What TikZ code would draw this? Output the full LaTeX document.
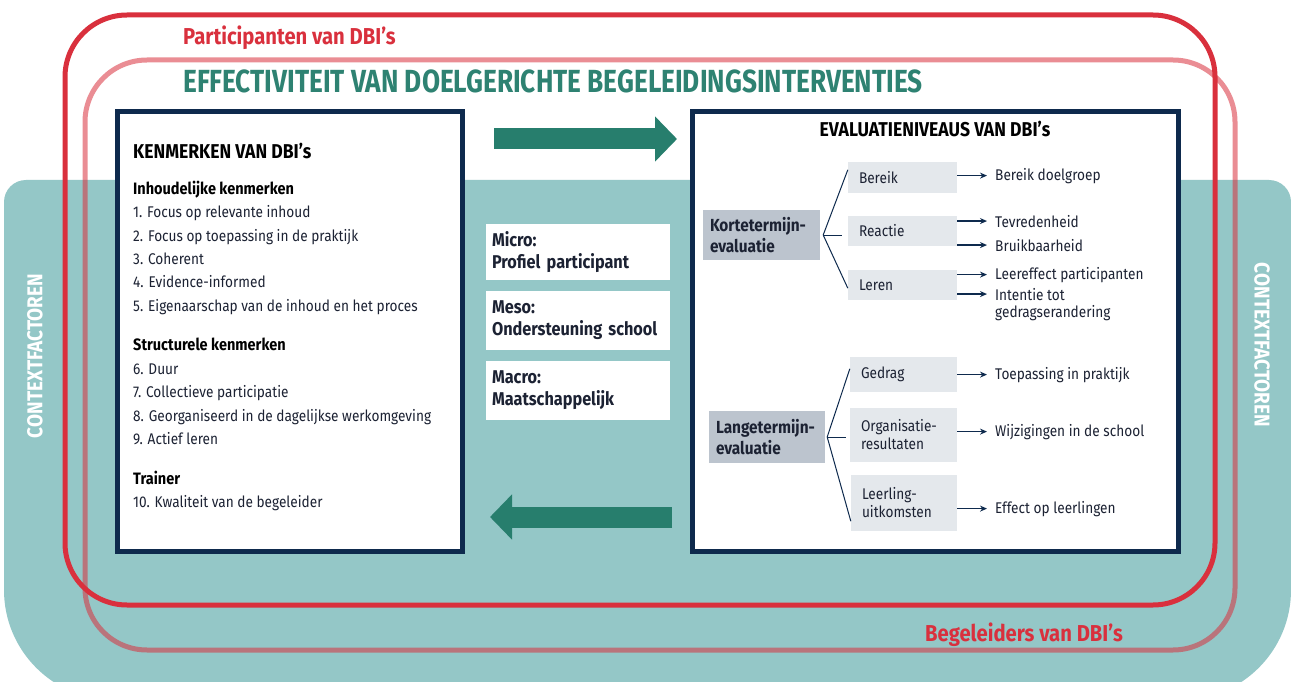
\documentclass[tikz,border=0pt]{standalone}
\usepackage{fontspec}
\setmainfont[FakeStretch=0.88]{Fira Sans}
\newfontfamily\titlefont[FakeStretch=0.82]{Fira Sans}
\usetikzlibrary{arrows.meta,calc}
\definecolor{tealbg}{HTML}{94C7C7}
\definecolor{dbred}{HTML}{D9303D}
\definecolor{navy}{HTML}{0E2A4D}
\definecolor{darkteal}{HTML}{277E6D}
\definecolor{titleteal}{HTML}{2E8272}
\definecolor{boxgray}{HTML}{BCC4CE}
\definecolor{lightgray}{HTML}{E4E8EC}
\definecolor{txt}{HTML}{1C2233}
\tikzset{
  mainbox/.style={draw=navy, line width=5pt, fill=white, inner sep=0pt},
  lvlbox/.style={fill=white, inner sep=0pt, minimum width=184pt, text width=172pt, align=left, font=\fontsize{18.5}{22}\selectfont\bfseries, text=txt},
  termbox/.style={fill=boxgray, inner xsep=7pt, inner ysep=0pt, align=left, font=\fontsize{17.5}{21}\selectfont\bfseries, text=txt},
  subbox/.style={fill=lightgray, inner xsep=11pt, inner ysep=0pt, align=left, font=\fontsize{15.5}{18}\selectfont, text=txt},
  lbl/.style={anchor=base west, inner sep=0pt, font=\fontsize{15.5}{18}\selectfont, text=txt},
  head/.style={anchor=base west, inner sep=0pt, font=\fontsize{16.5}{19}\selectfont\bfseries, text=black},
  bighead/.style={inner sep=0pt, font=\fontsize{20}{24}\selectfont\bfseries, text=black},
  redlbl/.style={anchor=base west, inner sep=0pt, text=dbred, font=\fontsize{23}{27}\selectfont\bfseries},
  branch/.style={draw=navy, line width=1pt},
  small/.style={draw=navy, line width=1.2pt, -{Stealth[length=7pt,width=6pt]}},
  bigarrow/.style={draw=darkteal, line width=21pt, -{Triangle[length=22pt,width=44pt]}},
  ctx/.style={text=white, font=\fontsize{21.5}{24}\selectfont\bfseries, inner sep=0pt},
  ring/.style={line width=5pt, rounded corners=62pt},
}
\begin{document}
\begin{tikzpicture}[x=1pt,y=-1pt]
\useasboundingbox (0,0) rectangle (1291,682);
\fill[white] (0,0) rectangle (1291,682);
\begin{scope}
\clip (0,0) rectangle (1291,682);
% teal context background
\fill[tealbg] (600,700) [rounded corners=110pt] -- (4,700) [rounded corners=22pt] -- (4,180) -- (1291,180) [rounded corners=110pt] -- (1291,700) [sharp corners] -- cycle;
\end{scope}
% rings
\draw[ring, draw=dbred] (65,15) rectangle (1215,605);
\draw[ring, draw=dbred, opacity=0.55] (85,60) rectangle (1235,650);

\node[redlbl] (part) at (183,45) {Participanten van DBI’s};
\node[redlbl] (beg) at (925,641) {Begeleiders van DBI’s};
\node[anchor=base west, inner sep=0pt, text=titleteal, font=\titlefont\fontsize{32}{36}\selectfont\bfseries] (title) at (183,93) {EFFECTIVITEIT VAN DOELGERICHTE BEGELEIDINGSINTERVENTIES};

\node[ctx, rotate=90] (ctxl) at (35,356) {CONTEXTFACTOREN};
\node[ctx, rotate=-90] (ctxr) at (1262,345) {CONTEXTFACTOREN};

% main boxes
\node[mainbox, minimum width=345pt, minimum height=439pt] (left) at (289.5,331.5) {};
\node[mainbox, minimum width=486pt, minimum height=439pt] (right) at (935,331.5) {};

% left box texts
\node[bighead, anchor=base west] (kh) at (133,159) {KENMERKEN VAN DBI’s};
\node[head] (h1) at (133,194) {Inhoudelijke kenmerken};
\node[lbl] (i1) at (133,217) {1. Focus op relevante inhoud};
\node[lbl] (i2) at (133,241) {2. Focus op toepassing in de praktijk};
\node[lbl] (i3) at (133,264) {3. Coherent};
\node[lbl] (i4) at (133,287) {4. Evidence-informed};
\node[lbl] (i5) at (133,311) {5. Eigenaarschap van de inhoud en het proces};
\node[head] (h2) at (133,350) {Structurele kenmerken};
\node[lbl] (i6) at (133,374) {6. Duur};
\node[lbl] (i7) at (133,397) {7. Collectieve participatie};
\node[lbl] (i8) at (133,421) {8. Georganiseerd in de dagelijkse werkomgeving};
\node[lbl] (i9) at (133,444) {9. Actief leren};
\node[head] (h3) at (133,484) {Trainer};
\node[lbl] (i10) at (133,507) {10. Kwaliteit van de begeleider};

% level boxes
\node[lvlbox, minimum height=56pt] (micro) at (578,252) {Micro:\\Profiel participant};
\node[lvlbox, minimum height=59pt] (meso) at (578,320.5) {Meso:\\Ondersteuning school};
\node[lvlbox, minimum height=59pt] (macro) at (578,390.5) {Macro:\\Maatschappelijk};

% big arrows
\coordinate (ra1) at (494,139);
\coordinate (ra2) at (677,139);
\coordinate (la1) at (672,517);
\coordinate (la2) at (490,517);
\draw[bigarrow] (ra1) -- (ra2);
\draw[bigarrow] (la1) -- (la2);

% right box content
\node[bighead, anchor=base] (rh) at (935,137) {EVALUATIENIVEAUS VAN DBI’s};

\node[termbox, minimum width=117pt, minimum height=50pt, text width=103pt] (korte) at (761.5,235) {Kortetermijn-\\evaluatie};
\node[subbox, minimum width=109pt, minimum height=31pt, text width=87pt] (bereik) at (902.5,177.5) {Bereik};
\node[subbox, minimum width=109pt, minimum height=30pt, text width=87pt] (reactie) at (902.5,231) {Reactie};
\node[subbox, minimum width=109pt, minimum height=30pt, text width=87pt] (leren) at (902.5,285) {Leren};

\node[termbox, minimum width=116pt, minimum height=52pt, text width=102pt] (lange) at (767,437) {Langetermijn-\\evaluatie};
\node[subbox, minimum width=107pt, minimum height=35pt, text width=85pt] (gedrag) at (903.5,374.5) {Gedrag};
\node[subbox, minimum width=107pt, minimum height=54pt, text width=85pt] (org) at (903.5,435) {Organisatie-\\resultaten};
\node[subbox, minimum width=106pt, minimum height=56pt, text width=84pt] (leerling) at (904,503) {Leerling-\\uitkomsten};

% branches
\coordinate (kf) at ($(korte.east)+(3,0)$);
\draw[branch] (kf) -- ($(bereik.north west)+(0,8)$);
\draw[branch] (kf) -- ($(reactie.west)+(-6,4)$);
\draw[branch] (kf) -- ($(leren.south west)+(0,-12)$);
\coordinate (lf) at ($(lange.east)+(2,0)$);
\draw[branch] (lf) -- ($(gedrag.north west)+(0,12)$);
\draw[branch] (lf) -- ($(org.west)+(-4,2)$);
\draw[branch] (lf) -- ($(leerling.south west)+(0,-10)$);

% outcome labels
\node[lbl] (o1) at (995,180) {Bereik doelgroep};
\node[lbl] (o2) at (995,227) {Tevredenheid};
\node[lbl] (o3) at (995,251) {Bruikbaarheid};
\node[lbl] (o4) at (995,279) {Leereffect participanten};
\node[lbl] (o5) at (995,300) {Intentie tot};
\node[lbl] (o5b) at (995,317) {gedragserandering};
\node[lbl] (o6) at (995,379) {Toepassing in praktijk};
\node[lbl] (o7) at (995,436) {Wijzigingen in de school};
\node[lbl] (o8) at (995,513) {Effect op leerlingen};

\foreach \b/\o in {bereik/o1, reactie/o2, reactie/o3, leren/o4, leren/o5, gedrag/o6, org/o7, leerling/o8}{
  \draw[small, shorten >=8pt] (\b.east |- \o.west) -- (\o.west);
}
\end{tikzpicture}
\end{document}
